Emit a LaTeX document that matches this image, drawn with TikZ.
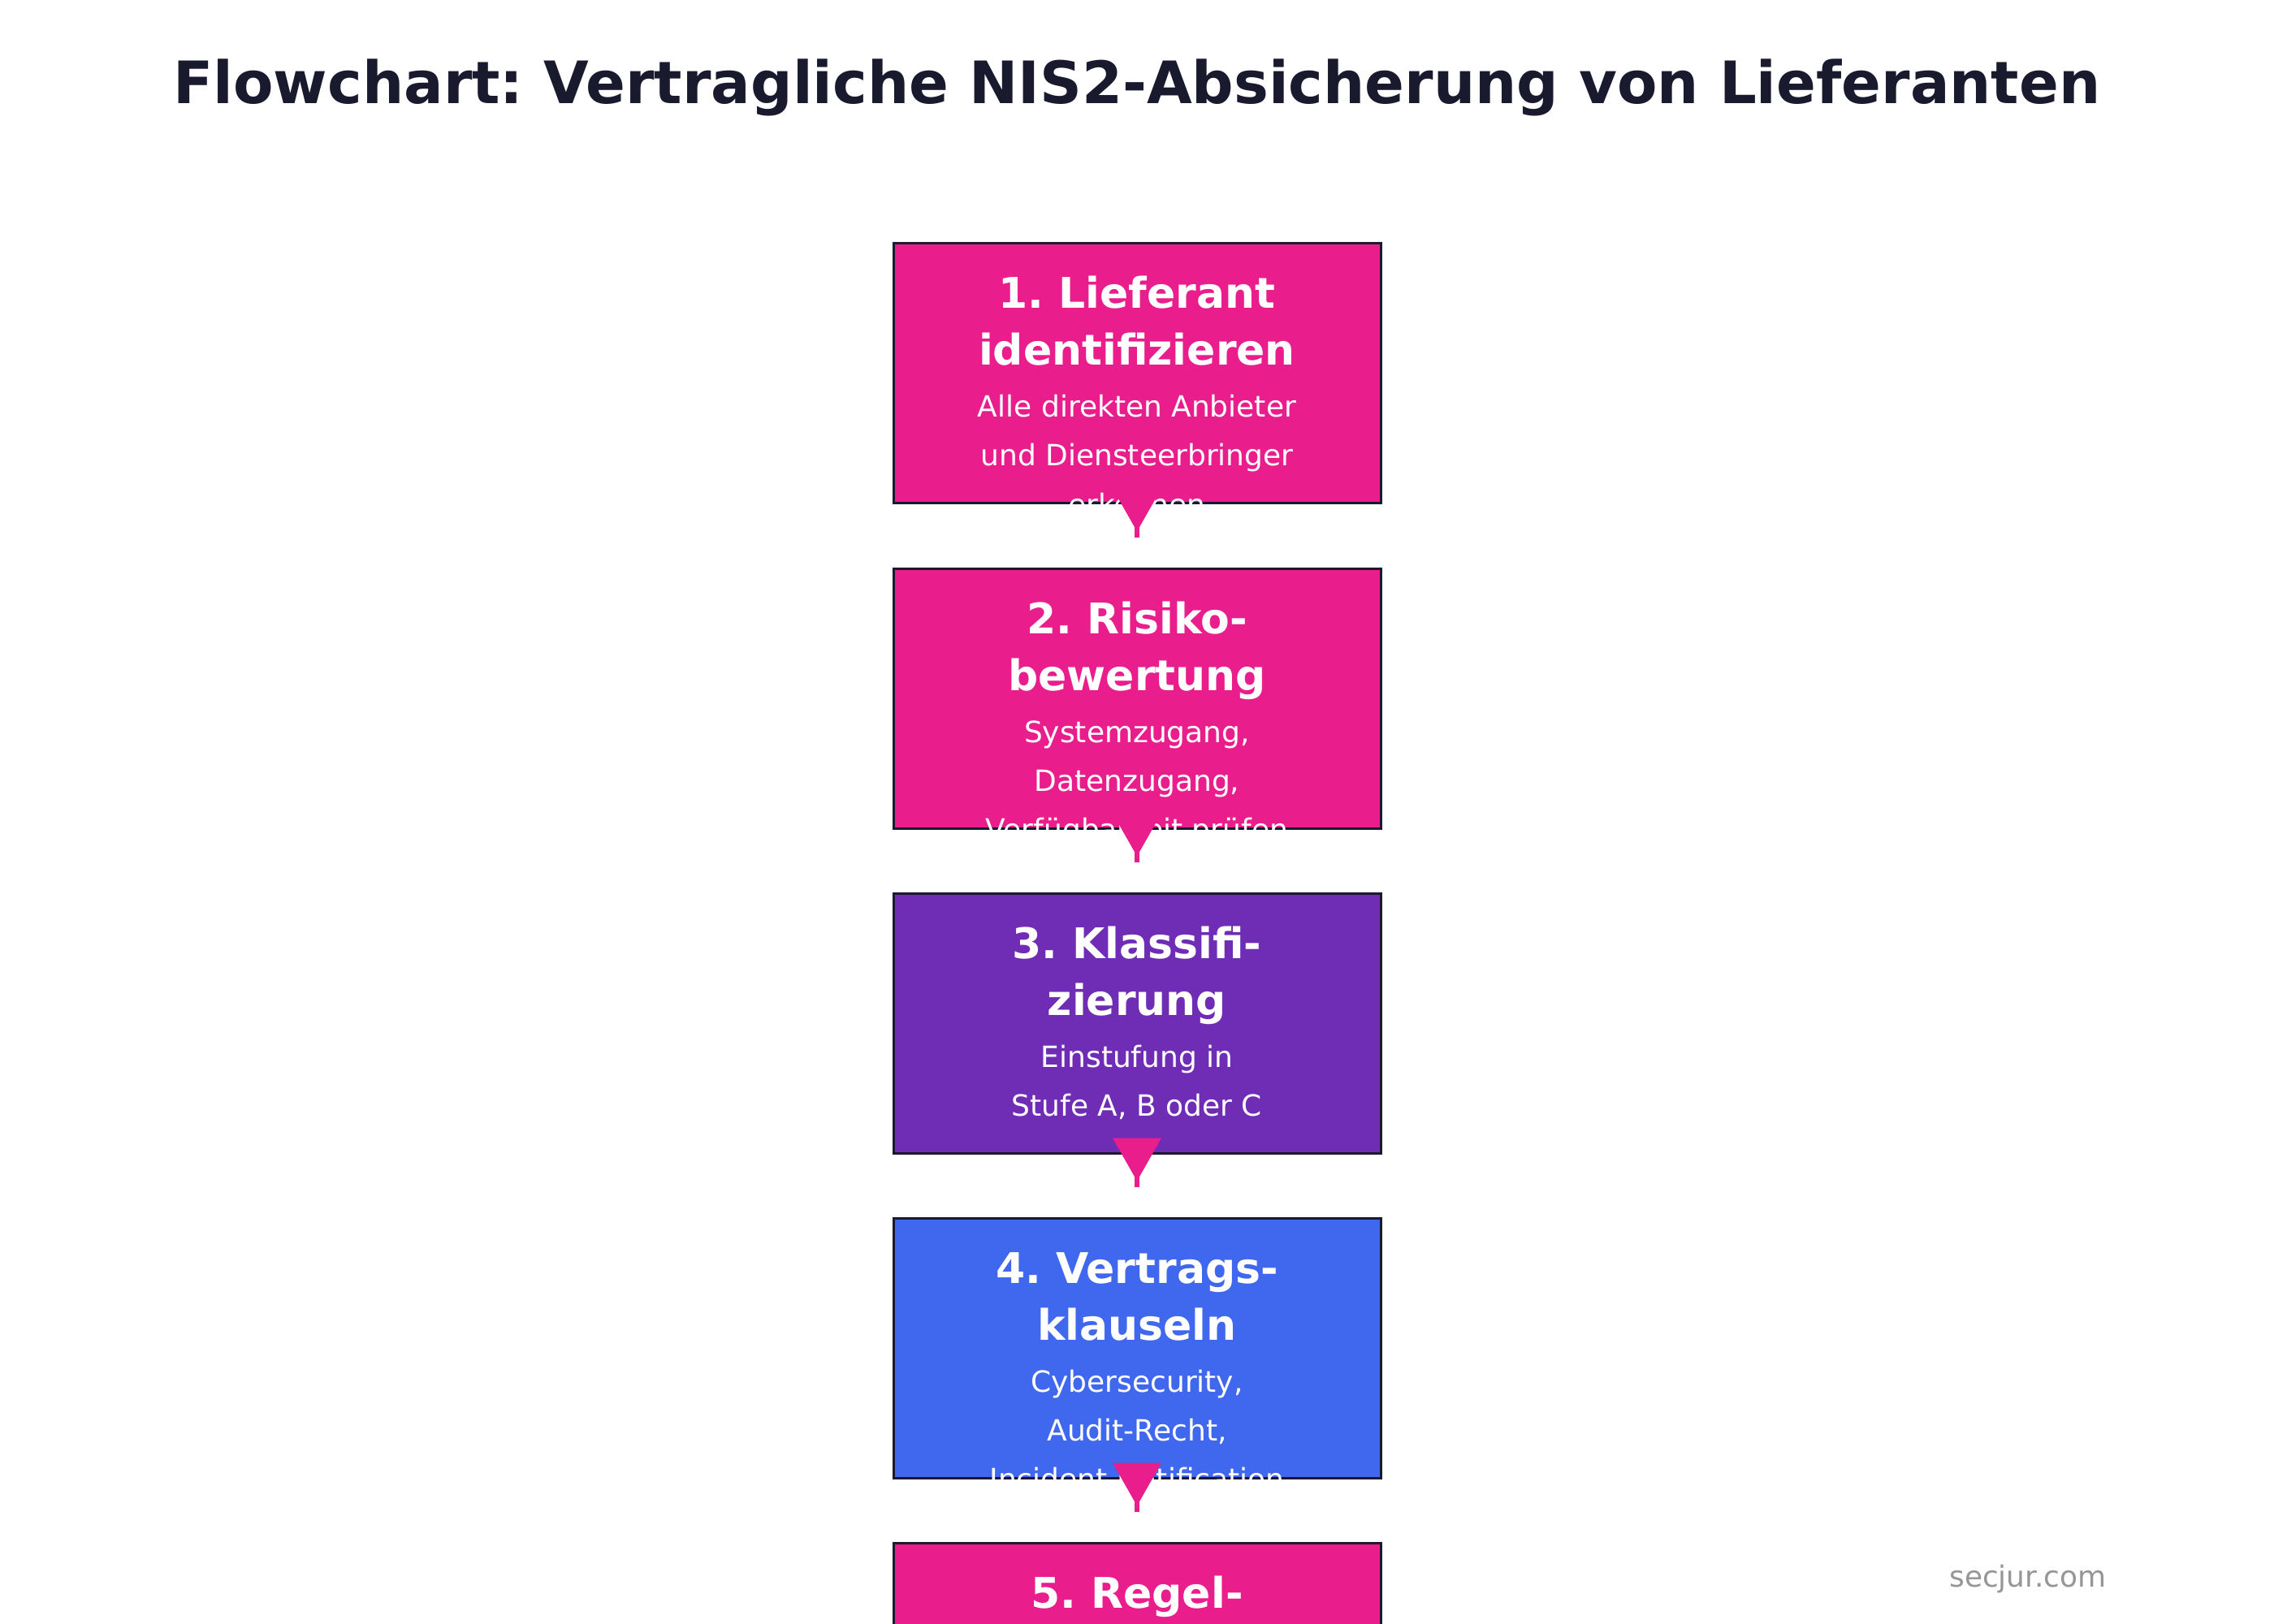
\documentclass[tikz,border=0pt]{standalone}
\usepackage{fontspec}
\setmainfont{DejaVu Sans}
\usetikzlibrary{calc}
\frenchspacing
\definecolor{cpink}{RGB}{233,30,140}
\definecolor{cpurple}{RGB}{111,44,180}
\definecolor{cblue}{RGB}{64,104,238}
\definecolor{cdark}{RGB}{26,26,46}
\definecolor{cgray}{RGB}{150,150,150}
\tikzset{
  stepbox/.style={rectangle, draw=cdark, line width=1.5pt, minimum width=300pt, minimum height=160pt, inner sep=0pt},
  boxtitle/.style={anchor=base, text=white, inner sep=0pt, font=\fontsize{26}{30}\selectfont\bfseries},
  boxdesc/.style={anchor=base, text=white, inner sep=0pt, font=\fontsize{18}{22}\selectfont},
  flowline/.style={draw=cpink, line width=3pt},
  flowtip/.style={fill=cpink}
}
\begin{document}
\begin{tikzpicture}[x=1pt,y=-1pt]
\useasboundingbox (0,0) rectangle (1400,1000);
\clip (0,0) rectangle (1400,1000);
\fill[white] (0,0) rectangle (1400,1000);
\node[anchor=base, inner sep=0pt, text=cdark, font=\fontsize{36}{40}\selectfont\bfseries] (title) at (700,64) {Flowchart: Vertragliche NIS2-Absicherung von Lieferanten};
% box 1
\node[stepbox, fill=cpink] (b1) at (700,230) {};
\node[boxtitle] (b1t1) at (700,190) {1. Lieferant};
\node[boxtitle] (b1t2) at (700,225) {identifizieren};
\node[boxdesc] (b1d1) at (700,257) {Alle direkten Anbieter};
\node[boxdesc] (b1d2) at (700,287) {und Diensteerbringer};
\node[boxdesc] (b1d3) at (700,317) {erkennen};
% box 2
\node[stepbox, fill=cpink] (b2) at (700,430) {};
\node[boxtitle] (b2t1) at (700,390) {2. Risiko-};
\node[boxtitle] (b2t2) at (700,425) {bewertung};
\node[boxdesc] (b2d1) at (700,457) {Systemzugang,};
\node[boxdesc] (b2d2) at (700,487) {Datenzugang,};
\node[boxdesc] (b2d3) at (700,517) {Verfügbarkeit prüfen};
% box 3
\node[stepbox, fill=cpurple] (b3) at (700,630) {};
\node[boxtitle] (b3t1) at (700,590) {3. Klassifi-};
\node[boxtitle] (b3t2) at (700,625) {zierung};
\node[boxdesc] (b3d1) at (700,657) {Einstufung in};
\node[boxdesc] (b3d2) at (700,687) {Stufe A, B oder C};
% box 4
\node[stepbox, fill=cblue] (b4) at (700,830) {};
\node[boxtitle] (b4t1) at (700,790) {4. Vertrags-};
\node[boxtitle] (b4t2) at (700,825) {klauseln};
\node[boxdesc] (b4d1) at (700,857) {Cybersecurity,};
\node[boxdesc] (b4d2) at (700,887) {Audit-Recht,};
\node[boxdesc] (b4d3) at (700,917) {Incident Notification};
% box 5
\node[stepbox, fill=cpink] (b5) at (700,1030) {};
\node[boxtitle] (b5t1) at (700,990) {5. Regel-};
% arrows
\foreach \b in {b1,b2,b3,b4}{
  \coordinate (\b end) at ($(\b.south)+(0,20)$);
  \draw[flowline] (\b.south) -- (\b end);
  \fill[flowtip] ($(\b.south)+(-15,-10)$) -- ($(\b.south)+(15,-10)$) -- ($(\b.south)+(0,16.5)$) -- cycle;
}
\node[anchor=base east, inner sep=0pt, text=cgray, font=\fontsize{18}{22}\selectfont] (wm) at (1297,977) {secjur.com};
\end{tikzpicture}
\end{document}
